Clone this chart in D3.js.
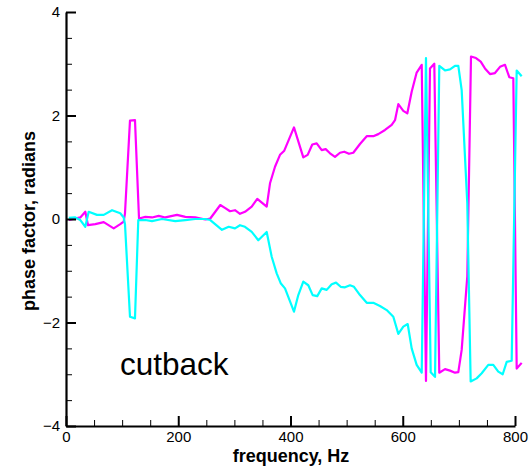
<!DOCTYPE html>
<html>
<head>
<meta charset="utf-8">
<script src="https://cdn.jsdelivr.net/npm/d3@7"></script>
<style>
  html, body { margin: 0; padding: 0; background: #fff; }
  svg { display: block; font-family: "Liberation Sans", Arial, sans-serif; }
</style>
</head>
<body>
<svg id="chart" width="529" height="468"></svg>
<script>
// ---- data ----
const xTicks = [0, 200, 400, 600, 800];
const yTicks = [-4, -2, 0, 2, 4];

const magentaFreq = [5, 25.5, 34.4, 39.2, 52.2, 67.2, 85.0, 96.7, 102.8, 105.1, 114.0, 122.9, 130.1, 141.3, 153.2, 165.2, 176.9, 197.8, 212.6, 230.4, 248.2, 257.1, 274.9, 283.8, 292.2, 301.1, 310.0, 318.9, 330.9, 340.8, 357.6, 363.5, 372.4, 381.3, 388.9, 406.2, 422.8, 430.6, 438.8, 446.7, 455.6, 462.7, 470.4, 479.3, 488.2, 495.8, 504.2, 511.9, 523.8, 535.8, 547.5, 556.4, 568.4, 580.3, 586.2, 592.1, 601.0, 608.1, 615.9, 624.8, 633.8, 641.4, 648.5, 656.2, 665.1, 675.3, 684.2, 693.1, 699.0, 705.0, 715.0, 721.6, 730.5, 738.9, 746.5, 755.4, 764.3, 773.3, 782.2, 789.8, 797.0, 803.0, 811.9];
const magentaPhase = [-0.02, 0.03, 0.14, -0.12, -0.10, -0.06, -0.18, -0.10, -0.05, 0.11, 1.90, 1.91, 0.01, 0.04, 0.03, 0.06, 0.03, 0.08, 0.04, 0.03, -0.01, 0.01, 0.27, 0.21, 0.15, 0.17, 0.10, 0.14, 0.24, 0.39, 0.24, 0.69, 1.01, 1.24, 1.32, 1.77, 1.19, 1.24, 1.44, 1.46, 1.33, 1.35, 1.27, 1.20, 1.28, 1.30, 1.26, 1.28, 1.45, 1.60, 1.60, 1.64, 1.72, 1.82, 1.91, 2.22, 2.09, 2.04, 2.46, 2.83, 2.98, -3.13, 2.91, 3.00, -2.97, -2.90, -2.93, -2.97, -2.96, -2.53, -1.11, 3.14, 3.11, 3.04, 2.91, 2.80, 2.82, 2.94, 2.98, 2.74, 2.72, -2.89, -2.78];

const cyanFreq = [5, 16.6, 25.5, 34.4, 40.4, 55.2, 67.2, 82.0, 96.7, 102.8, 105.1, 114.0, 122.9, 128.8, 141.3, 153.2, 171.0, 194.7, 212.6, 230.4, 248.2, 257.1, 277.9, 289.9, 301.1, 310.0, 318.9, 330.9, 342.6, 357.6, 366.5, 375.4, 382.5, 390.2, 406.2, 413.9, 422.8, 431.7, 439.5, 447.7, 455.6, 464.5, 473.4, 481.1, 489.4, 497.1, 506.0, 513.1, 523.8, 535.8, 547.5, 559.4, 571.4, 583.2, 592.1, 601.0, 608.8, 615.9, 624.8, 633.8, 641.4, 649.8, 657.5, 665.1, 675.3, 684.2, 693.1, 699.0, 705.0, 715.0, 721.0, 731.7, 740.7, 752.4, 761.3, 770.2, 778.1, 785.2, 794.1, 803.0, 811.9];
const cyanPhase = [0.02, 0.03, -0.02, -0.15, 0.14, 0.08, 0.08, 0.17, 0.11, 0.03, -0.10, -1.89, -1.92, -0.02, -0.02, -0.04, 0.00, -0.04, -0.02, 0.00, 0.00, -0.02, -0.21, -0.15, -0.18, -0.12, -0.15, -0.25, -0.41, -0.25, -0.73, -1.05, -1.24, -1.34, -1.79, -1.47, -1.21, -1.28, -1.47, -1.49, -1.34, -1.37, -1.26, -1.23, -1.31, -1.32, -1.28, -1.31, -1.47, -1.62, -1.62, -1.68, -1.76, -1.89, -2.22, -2.08, -2.03, -2.50, -2.82, -2.97, 3.11, -2.96, -3.05, 2.96, 2.87, 2.89, 2.96, 2.96, 2.49, 0.30, -3.14, -3.08, -2.98, -2.82, -2.82, -2.95, -3.00, -2.76, -2.74, 2.87, 2.76];

const annotation = "cutback";
const xTitle = "frequency, Hz";
const yTitle = "phase factor, radians";

// ---- layout ----
const svg = d3.select("#chart");
const plotLeft = 66, plotRight = 515, plotTop = 12, plotBottom = 426;

const x = d3.scaleLinear().domain([0, 800]).range([plotLeft, plotRight]);
const y = d3.scaleLinear().domain([-4, 4]).range([plotBottom, plotTop]);

const minorX = d3.range(0, 801, 50).filter(v => v % 200 !== 0);
const minorY = d3.range(-4, 4.01, 0.5).filter(v => Math.abs(v % 2) > 1e-9);

// minor ticks
svg.append("g").attr("transform", `translate(0,${plotBottom})`)
  .call(d3.axisBottom(x).tickValues(minorX).tickSize(-6).tickSizeOuter(0).tickFormat(""))
  .call(g => g.select(".domain").remove())
  .call(g => g.selectAll("line").attr("stroke", "#000").attr("stroke-width", 1));
svg.append("g").attr("transform", `translate(${plotLeft},0)`)
  .call(d3.axisLeft(y).tickValues(minorY).tickSize(-6).tickSizeOuter(0).tickFormat(""))
  .call(g => g.select(".domain").remove())
  .call(g => g.selectAll("line").attr("stroke", "#000").attr("stroke-width", 1));

// lines
const line = d3.line().x(d => x(d[0])).y(d => y(d[1]));
const magenta = magentaFreq.map((f, i) => [f, magentaPhase[i]]);
const cyan = cyanFreq.map((f, i) => [f, cyanPhase[i]]);

svg.append("path").datum(magenta).attr("d", line)
  .attr("fill", "none").attr("stroke", "#ff00ff").attr("stroke-width", 2.2).attr("stroke-linejoin", "round");
svg.append("path").datum(cyan).attr("d", line)
  .attr("fill", "none").attr("stroke", "#00ffff").attr("stroke-width", 2.2).attr("stroke-linejoin", "round");

// major axes
svg.append("g").attr("transform", `translate(0,${plotBottom})`)
  .call(d3.axisBottom(x).tickValues(xTicks).tickSize(-10).tickSizeOuter(0).tickPadding(5).tickFormat(d3.format("d")))
  .call(g => g.select(".domain").attr("stroke", "#000").attr("stroke-width", 2.2))
  .call(g => g.selectAll("line").attr("stroke", "#000").attr("stroke-width", 2))
  .call(g => g.selectAll("text").attr("font-size", 15).attr("fill", "#000")
    .attr("font-family", "Liberation Sans, Arial, sans-serif"));

svg.append("g").attr("transform", `translate(${plotLeft},0)`)
  .call(d3.axisLeft(y).tickValues(yTicks).tickSize(-10).tickSizeOuter(0).tickPadding(6).tickFormat(d3.format("d")))
  .call(g => g.select(".domain").attr("stroke", "#000").attr("stroke-width", 2.2))
  .call(g => g.selectAll("line").attr("stroke", "#000").attr("stroke-width", 2))
  .call(g => g.selectAll("text").attr("font-size", 15).attr("fill", "#000")
    .attr("font-family", "Liberation Sans, Arial, sans-serif"));

// titles
svg.append("text").attr("x", 291).attr("y", 462).attr("text-anchor", "middle")
  .attr("font-size", 18).attr("font-weight", "bold").text(xTitle);
svg.append("text").attr("transform", "translate(35,221) rotate(-90)").attr("text-anchor", "middle")
  .attr("font-size", 18).attr("font-weight", "bold").text(yTitle);

svg.append("text").attr("x", 120).attr("y", 375).attr("font-size", 31.5).text(annotation);
</script>
</body>
</html>
